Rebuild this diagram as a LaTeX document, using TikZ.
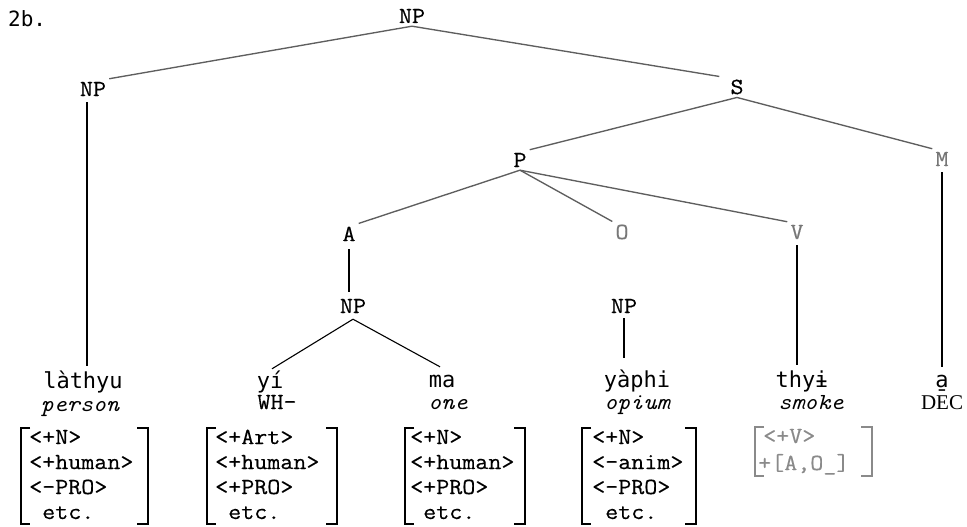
\documentclass[tikz,border=0pt]{standalone}
\usepackage{fontspec}
\setmainfont{Liberation Serif}
\newfontfamily\wordfont{DejaVu Sans Mono}
\newfontfamily\monofam[FakeStretch=1.1,FakeBold=0.4]{Latin Modern Mono}
\newfontfamily\glossfam[FakeStretch=1.08]{Latin Modern Mono}
\usetikzlibrary{calc}
\definecolor{treegray}{HTML}{5E5E5E}
\definecolor{labgray}{HTML}{777777}
\definecolor{brgray}{HTML}{8A8A8A}
\newcommand\fbracket[5][black]{%
  \draw[brk,#1] (#2+9,#4) -- (#2,#4) -- (#2,#5) -- (#2+9,#5);
  \draw[brk,#1] (#3-11,#4) -- (#3,#4) -- (#3,#5) -- (#3-11,#5);}
\begin{document}
\begin{tikzpicture}[x=1pt,y=-1pt,
  lab/.style={font=\monofam\fontsize{23}{25}\selectfont, inner sep=3pt, anchor=base},
  graylab/.style={lab, text=labgray},
  numlab/.style={font=\wordfont\fontsize{21}{24}\selectfont, inner sep=0pt, anchor=base west},
  word/.style={font=\wordfont\fontsize{22}{25}\selectfont, inner sep=0pt, anchor=base, text height=15pt, text depth=5pt},
  gloss/.style={font=\glossfam\itshape\fontsize{23}{25}\selectfont, inner sep=0pt, anchor=base},
  declab/.style={font=\rmfamily\fontsize{21}{24}\selectfont, inner sep=0pt, anchor=base},
  upper/.style={draw=treegray, line width=1.35pt},
  lower/.style={draw=black, line width=1.1pt},
  feat/.style={font=\monofam\fontsize{23}{25}\selectfont, inner sep=0pt, anchor=base west},
  brk/.style={line width=1.4pt},
]
\useasboundingbox[fill=white] (0,0) rectangle (967,527);

\node[numlab] (label) at (8,27) {2b.};

% tree labels
\node[lab] (np0) at (412,23) {NP};
\node[lab] (np1) at (93,96) {NP};
\node[lab] (s) at (737,94) {S};
\node[lab] (p) at (520,167) {P};
\node[graylab] (m) at (942,166) {M};
\node[lab] (a) at (349,241) {A};
\node[graylab] (o) at (622,239) {O};
\node[graylab] (v) at (797,239) {V};
\node[lab] (np2) at (353,313) {NP};
\node[lab] (np3) at (624,313) {NP};

% words and glosses
\node[word] (w1) at (83,388) {làthyu};
\node[gloss] (g1) at (80,411) {person};
\node[word] (w2) at (270,388) {yí};
\node[lab, inner sep=0pt] (g2) at (277,409) {WH-};
\node[word] (w3) at (442,387) {ma};
\node[gloss] (g3) at (448,409) {one};
\node[word] (w4) at (637,387) {yàphi};
\node[gloss] (g4) at (637,409) {opium};
\node[word] (w5) at (802,387) {thyɨ};
\node[gloss] (g5) at (811,409) {smoke};
\node[word] (w6) at (942,387) {a̱};
\node[declab] (g6) at (942,409) {DEC};

% upper tree connectors
\draw[upper] (np0.south) -- (np1.north east);
\draw[upper] (np0.south) -- ([xshift=-8pt]s.north west);
\draw[upper] (s.south) -- (p.north east);
\draw[upper] (s.south) -- (m.north west);
\draw[upper] (p.south) -- (a.north east);
\draw[upper] (p.south) -- (o.north west);
\draw[upper] (p.south) -- (v.north west);

% lower connectors
\draw[lower] ([xshift=-6pt,yshift=-3pt]np1.south) -- ([xshift=-6pt,yshift=7pt]np1.south |- w1.north);
\draw[lower] ([yshift=-5pt]a.south) -- ([yshift=4pt]a.south |- np2.north);
\draw[lower] ([yshift=-3pt]np2.south) -- ([xshift=2pt,yshift=4pt]w2.north);
\draw[lower] ([yshift=-3pt]np2.south) -- ([xshift=-2pt,yshift=5pt]w3.north);
\draw[lower] ([yshift=-2pt]np3.south) -- ([yshift=14pt]np3.south |- w4.north);
\draw[lower] ([yshift=-3pt]v.south) -- ([yshift=7pt]v.south |- w5.north);
\draw[lower] ([yshift=-3pt]m.south) -- ([yshift=5pt]m.south |- w6.north);

% feature matrices
\node[feat] (f11) at (29,444) {<+N>};
\node[feat] (f12) at (29,469) {<+human>};
\node[feat] (f13) at (29,494) {<-PRO>};
\node[feat] (f14) at (29,519) {\phantom{<}etc.};
\fbracket{21}{148}{428}{524}

\node[feat] (f21) at (215,444) {<+Art>};
\node[feat] (f22) at (215,469) {<+human>};
\node[feat] (f23) at (215,494) {<+PRO>};
\node[feat] (f24) at (215,519) {\phantom{<}etc.};
\fbracket{207}{337}{428}{524}

\node[feat] (f31) at (410,444) {<+N>};
\node[feat] (f32) at (410,469) {<+human>};
\node[feat] (f33) at (410,494) {<+PRO>};
\node[feat] (f34) at (410,519) {\phantom{<}etc.};
\fbracket{405}{525}{428}{524}

\node[feat] (f41) at (592,444) {<+N>};
\node[feat] (f42) at (592,469) {<-anim>};
\node[feat] (f43) at (592,494) {<-PRO>};
\node[feat] (f44) at (592,519) {\phantom{<}etc.};
\fbracket{582}{696}{428}{524}

\node[feat, text=brgray] (f51) at (763,443) {<+V>};
\node[feat, text=brgray] (f52) at (758,470) {+[A,O\_]};
\fbracket[brgray]{755}{872}{427}{476}
\end{tikzpicture}
\end{document}
